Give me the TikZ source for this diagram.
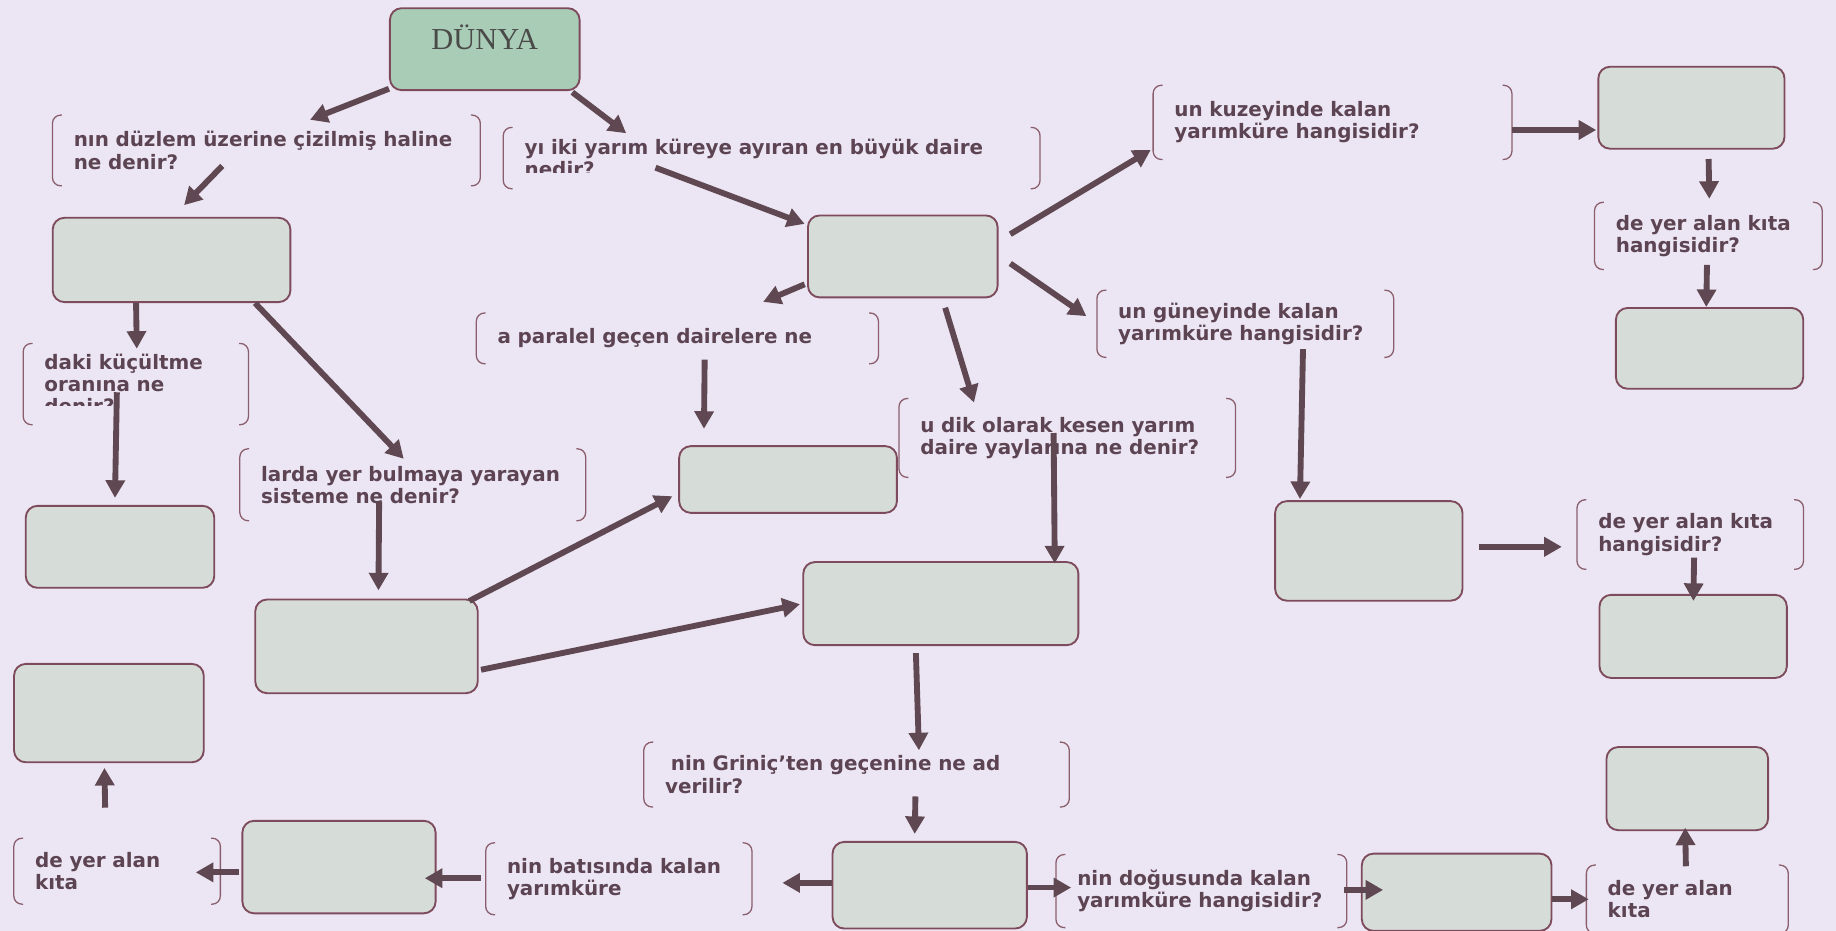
\documentclass[tikz,border=0pt]{standalone}
\usepackage{fontspec}
\setmainfont{DejaVu Sans}
\newfontfamily\dunyafont{Liberation Serif}
\usetikzlibrary{arrows.meta,calc}
\definecolor{bgc}{HTML}{ECE6F4}
\definecolor{boxc}{HTML}{D6DCD8}
\definecolor{dunc}{HTML}{A9CCB7}
\definecolor{edgec}{HTML}{7D4B5C}
\definecolor{arrc}{HTML}{5F4851}
\definecolor{txtc}{HTML}{5D4453}
\definecolor{brkc}{HTML}{8A5E6C}
\begin{document}
\begin{tikzpicture}[x=1pt,y=-1pt,
  box/.style={rectangle, rounded corners=10pt, draw=edgec, line width=1.6pt, fill=boxc, inner sep=0pt},
  q/.style={rectangle, inner xsep=18pt, inner ysep=0pt, align=left, text=txtc,
            font=\bfseries\fontsize{17}{19}\selectfont},
  brk/.style={draw=brkc, line width=1.1pt, rounded corners=7pt},
  arr/.style={draw=arrc, line width=5pt, -{Triangle[length=15pt,width=16pt]}}]
\fill[bgc] (0,0) rectangle (1568,795);
\useasboundingbox (0,0) rectangle (1568,795);

% boxes
\node[box, fill=dunc, minimum width=162pt, minimum height=70pt] (dunya) at (414,42)
  {\raisebox{0pt}[0pt][0pt]{\dunyafont\fontsize{26}{26}\selectfont\color[HTML]{4A4A48}DÜNYA}};
\node[box, minimum width=203pt, minimum height=72pt] (A) at (146.5,222) {};
\node[box, minimum width=162pt, minimum height=70pt] (B) at (771,219) {};
\node[box, minimum width=159pt, minimum height=70pt] (C) at (1444.5,92) {};
\node[box, minimum width=160pt, minimum height=69pt] (D) at (1460,297.5) {};
\node[box, minimum width=161pt, minimum height=70pt] (E) at (102.5,467) {};
\node[box, minimum width=190pt, minimum height=80pt] (F) at (313,552) {};
\node[box, minimum width=186pt, minimum height=57pt] (G) at (673,409.5) {};
\node[box, minimum width=235pt, minimum height=71pt] (H) at (803.5,515.5) {};
\node[box, minimum width=160pt, minimum height=85pt] (I) at (1169,470.5) {};
\node[box, minimum width=160pt, minimum height=71pt] (J) at (1446,543.5) {};
\node[box, minimum width=162pt, minimum height=84pt] (K) at (93,609) {};
\node[box, minimum width=165pt, minimum height=79pt] (L) at (289.5,740.5) {};
\node[box, minimum width=166pt, minimum height=74pt] (M) at (794,756) {};
\node[box, minimum width=162pt, minimum height=66pt] (N) at (1244,762) {};
\node[box, minimum width=138pt, minimum height=71pt] (O) at (1441,673.5) {};

% questions
\node[q, text width=329pt, minimum height=60pt] (t1) at (227.5,128.5)
  {\mbox{nın düzlem üzerine çizilmiş haline}\\\mbox{ne denir?}};
\begin{scope}
\clip (420,100) rectangle (900,147);
\node[q, text width=422pt, minimum height=52pt] (t2) at (659,135)
  {\mbox{yı iki yarım küreye ayıran en büyük daire}\\\mbox{nedir?}};
\end{scope}
\begin{scope}
\clip (10,280) rectangle (220,346);
\node[q, text width=156pt, minimum height=69pt] (t3) at (116,328)
  {\mbox{daki küçültme}\\\mbox{oranına ne}\\\mbox{denir?}};
\end{scope}
\node[q, text width=307pt, minimum height=43pt] (t4) at (578.5,289)
  {\mbox{a paralel geçen dairelere ne}};
\node[q, text width=259pt, minimum height=61pt] (t5) at (352.5,414)
  {\mbox{larda yer bulmaya yarayan}\\\mbox{sisteme ne denir?}};
\node[q, text width=251pt, minimum height=67pt] (t6) at (911.5,374)
  {\mbox{u dik olarak kesen yarım}\\\mbox{daire yaylarına ne denir?}};
\node[q, text width=270pt, minimum height=63pt] (t7) at (1138,104.5)
  {\mbox{un kuzeyinde kalan}\\\mbox{yarımküre hangisidir?}};
\node[q, text width=158pt, minimum height=57pt] (t8) at (1459,201.5)
  {\mbox{de yer alan kıta}\\\mbox{hangisidir?}};
\node[q, text width=217pt, minimum height=57pt] (t9) at (1063.5,276.5)
  {\mbox{un güneyinde kalan}\\\mbox{yarımküre hangisidir?}};
\node[q, text width=157pt, minimum height=59pt] (t10) at (1443.5,456.5)
  {\mbox{de yer alan kıta}\\\mbox{hangisidir?}};
\node[q, text width=327pt, minimum height=55pt] (t11) at (731.5,661.5)
  {\mbox{\hspace*{5pt}nin Griniç’ten geçenine ne ad}\\\mbox{verilir?}};
\node[q, text width=140pt, minimum height=56pt] (t12) at (100,744)
  {\mbox{de yer alan}\\\mbox{kıta}};
\node[q, text width=191pt, minimum height=61pt] (t13) at (528.5,750.5)
  {\mbox{nin batısında kalan}\\\mbox{yarımküre}};
\node[q, text width=212pt, minimum height=62pt] (t14) at (1026,761)
  {\mbox{nin doğusunda kalan}\\\mbox{yarımküre hangisidir?}};
\node[q, text width=136pt, minimum height=58pt] (t15) at (1441,768)
  {\mbox{de yer alan}\\\mbox{kıta}};

% brackets
\foreach \n in {t1,t2,t3,t4,t5,t6,t7,t8,t9,t10,t11,t12,t13,t14,t15} {
  \draw[brk] ([xshift=8pt]\n.north west) -- (\n.north west) -- (\n.south west) -- ([xshift=8pt]\n.south west);
  \draw[brk] ([xshift=-8pt]\n.north east) -- (\n.north east) -- (\n.south east) -- ([xshift=-8pt]\n.south east);
}

% arrows
\draw[arr] ([shift={(0,-2)}]dunya.south west) -- ([shift={(220,4)}]t1.north west);
\draw[arr] ([shift={(-7,1)}]dunya.south east) -- ([shift={(105,5)}]t2.north west);
\draw[arr] ([shift={(145,-17)}]t1.south west) -- ([shift={(113,-10)}]A.north west);
\draw[arr] ([shift={(130,-18)}]t2.south west) -- ([shift={(-2,8)}]B.north west);
\draw[arr] ([shift={(10,-19)}]B.east) -- ([shift={(-2,23.5)}]t7.west);
\draw[arr] ([shift={(10,6)}]B.east) -- ([shift={(-9,-6.5)}]t9.west);
\draw[arr] ([shift={(-2,-12)}]B.south west) -- ([shift={(245,-9.5)}]t4.north west);
\draw[arr] ([shift={(118,8)}]B.south west) -- ([shift={(64,3.5)}]t6.north west);
\draw[arr] ([shift={(195,-3.5)}]t4.south west) -- ([shift={(22,-14)}]G.north west);
\draw[arr] ([shift={(72,0)}]A.south west) -- ([shift={(97,4.5)}]t3.north west);
\draw[arr] ([shift={(80,7)}]t3.west) -- ([shift={(77,-6)}]E.north west);
\draw[arr] ([shift={(-31,0)}]A.south east) -- ([shift={(140,8.5)}]t5.north west);
\draw[arr] ([shift={(119,-16.5)}]t5.south west) -- ([shift={(106,-7)}]F.north west);
\draw[arr] ([shift={(-8,2)}]F.north east) -- ([shift={(-5,-15)}]G.south west);
\draw[arr] ([shift={(2,20)}]F.east) -- ([shift={(-2,0.5)}]H.west);
\draw[arr] ([shift={(132,29.5)}]t6.north west) -- ([shift={(-21,2)}]H.north east);
\draw[arr] ([shift={(97,6)}]H.south west) -- ([shift={(235,7)}]t11.north west);
\draw[arr] ([shift={(232,-9)}]t11.south west) -- ([shift={(71,-6)}]M.north west);
\draw[arr] ([shift={(0,-2)}]M.west) -- ([shift={(26,3.5)}]t13.east);
\draw[arr] ([shift={(-4,-0.5)}]t13.west) -- ([shift={(-10,9.5)}]L.east);
\draw[arr] ([shift={(-2,4.5)}]L.west) -- ([shift={(-21,1)}]t12.east);
\draw[arr] ([shift={(78,-26)}]t12.north west) -- ([shift={(78,4)}]K.south west);
\draw[arr] ([shift={(0,2)}]M.east) -- ([shift={(13,-3)}]t14.west);
\draw[arr] ([shift={(-2,-1)}]t14.east) -- ([shift={(19,-2)}]N.west);
\draw[arr] ([shift={(0,6)}]N.east) -- ([shift={(2,0)}]t15.west);
\draw[arr] ([shift={(85,1)}]t15.north west) -- ([shift={(68,-3)}]O.south west);
\draw[arr] ([shift={(176,-7)}]t9.south west) -- ([shift={(22,-1)}]I.north west);
\draw[arr] ([shift={(13,-3.5)}]I.east) -- ([shift={(-13,10.5)}]t10.west);
\draw[arr] ([shift={(100,-10)}]t10.south west) -- ([shift={(81,6)}]J.north west);
\draw[arr] ([shift={(0,6.5)}]t7.east) -- ([shift={(-1,19)}]C.west);
\draw[arr] ([shift={(95,8)}]C.south west) -- ([shift={(98,-3)}]t8.north west);
\draw[arr] ([shift={(96,-4)}]t8.south west) -- ([shift={(78,0)}]D.north west);
\end{tikzpicture}
\end{document}
